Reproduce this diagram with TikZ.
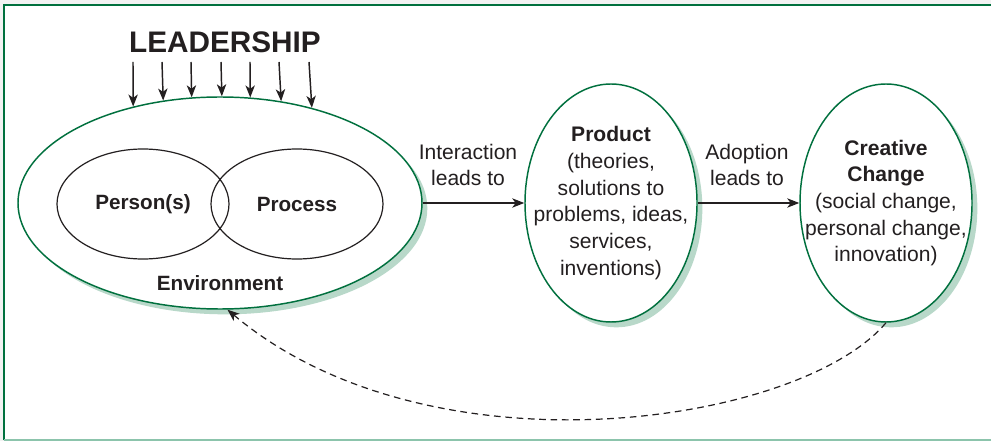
\documentclass[tikz,border=0pt]{standalone}
\usepackage{fontspec}
\setmainfont{Liberation Sans}
\usetikzlibrary{shapes.geometric,shadows,arrows.meta}

\definecolor{darkgreen}{RGB}{0,112,62}
\definecolor{palegreen}{RGB}{184,216,201}
\definecolor{rimgreen}{RGB}{140,196,172}
\definecolor{edgegrey}{RGB}{242,242,242}
\definecolor{ink}{RGB}{35,31,32}

\begin{document}
\begin{tikzpicture}[x=0.75pt, y=-0.75pt,
  bubble/.style={ellipse, draw=darkgreen, line width=1.1pt, fill=white, inner sep=0pt,
    drop shadow={shadow xshift=4pt, shadow yshift=-4pt, fill=palegreen, opacity=1}},
  ring/.style={ellipse, draw=ink, line width=0.9pt, inner sep=0pt,
    minimum width=129pt, minimum height=82.5pt},
  link/.style={draw=ink, line width=1.1pt, -{Stealth[length=9pt, width=7pt, inset=2.5pt]}},
  words/.style={text=ink, font=\fontsize{15.8}{20}\selectfont, align=center, inner sep=0pt},
  headword/.style={text=ink, font=\bfseries\fontsize{15.5}{20}\selectfont, inner sep=0pt}]

% frame
\useasboundingbox (0,0) rectangle (991,441);
\fill [edgegrey] (0,0) rectangle (991,441);
\fill [white] (4,6) rectangle (991,439);
\draw [darkgreen, line width=1.5pt] (4,440) -- (4,5.5) -- (991,5.5);
\draw [rimgreen, line width=1.5pt] (4,440) -- (991,440);

% leadership
\node [text=ink, font=\bfseries\fontsize{22.3}{27}\selectfont, inner sep=0pt] (leader) at (225,42) {LEADERSHIP};

% environment with persons and process
\node [bubble, minimum width=303pt, minimum height=159pt] (env) at (220,203) {};
\node [ring] (person) at (143,204) {};
\node [ring] (process) at (297,204) {};
\node [headword] (persontext) at (person) {Person(s)};
\node [headword] (processtext) at (process) {Process};
\node [headword] (envtext) at (220,283) {Environment};

\foreach \x in {133,162,191,221,250,279,309} {
  \pgfmathsetmacro\ang{atan2(106*sqrt(1-((\x-220)/202)*((\x-220)/202)), \x-220)}
  \coordinate (lead) at (\x,62);
  \draw [link] (lead) -- (env.\ang);
}

% product
\node [bubble, minimum width=129pt, minimum height=178.5pt] (product) at (611,203) {};
\node [words] (producttext) at (product) {\textbf{Product}\\(theories,\\solutions to\\problems, ideas,\\services,\\inventions)};

% creative change
\node [bubble, minimum width=129pt, minimum height=178.5pt] (creative) at (886,203) {};
\node [words] (creativetext) at (creative) {\textbf{Creative}\\\textbf{Change}\\(social change,\\personal change,\\innovation)};

% links
\draw [link] (env.east) -- (product.west);
\node [words] (interact) at (468,165) {Interaction\\leads to};
\draw [link] (product.east) -- (creative.west);
\node [words] (adopt) at (747,165) {Adoption\\leads to};

\draw [link, line width=0.9pt, dash pattern=on 5pt off 3.5pt] (creative.south) .. controls (800,425) and (430,480) .. (env.-86);
\end{tikzpicture}
\end{document}
